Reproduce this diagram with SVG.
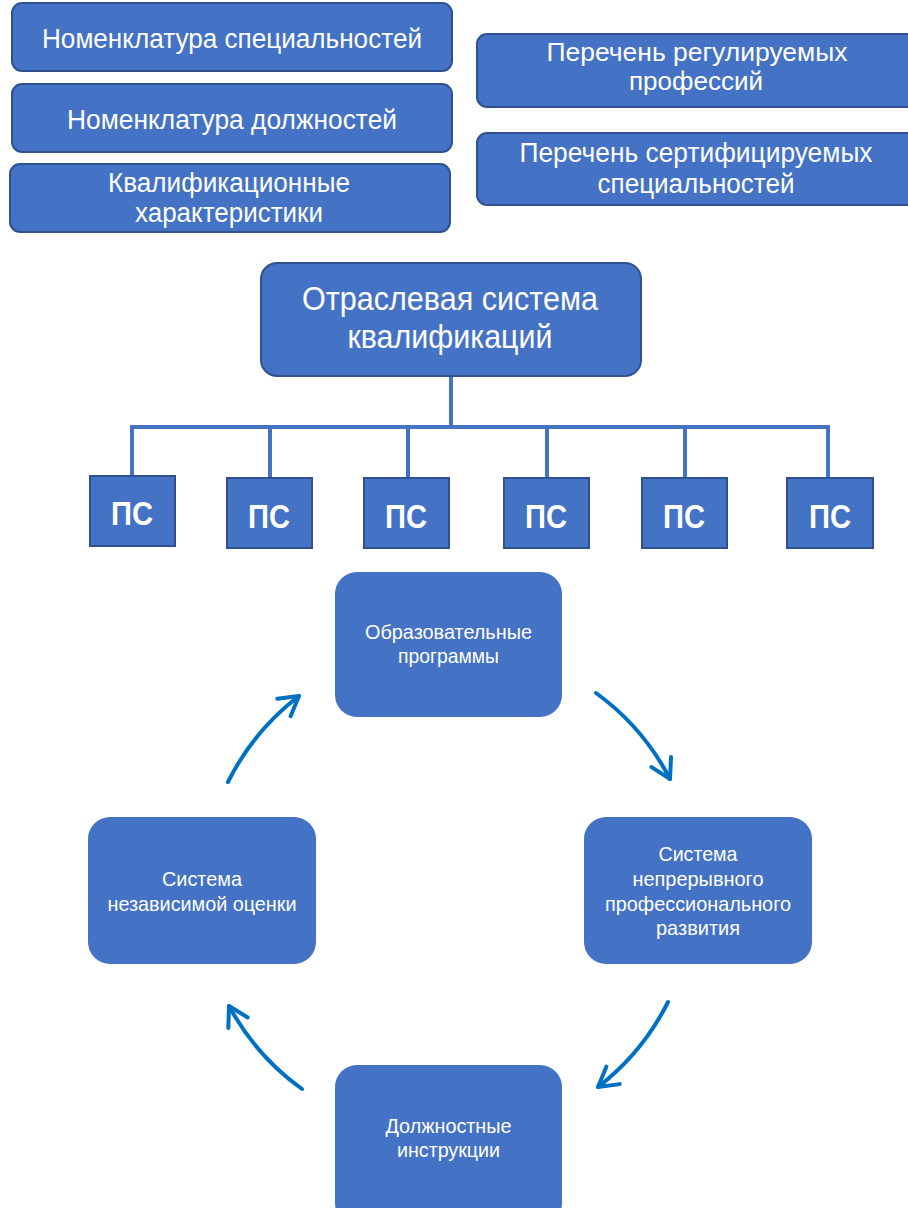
<svg xmlns="http://www.w3.org/2000/svg" width="908" height="1208" viewBox="0 0 908 1208">
<style>
.box{fill:#4472C4;stroke:#2F528F;stroke-width:2}
.cyc{fill:#4472C4;stroke:none}
.t{fill:#fff;font-family:"Liberation Sans",Arial,sans-serif;text-anchor:middle}
.tl{font-size:27px}
.tr{font-size:26px}
.tm{font-size:33px}
.ps{font-size:34px;font-weight:bold}
.ts{font-size:21px}
.line{stroke:#4472C4;stroke-width:4;fill:none}
.arr{stroke:#0070C0;stroke-width:4;fill:none;stroke-linecap:round}
</style>
<defs>
<marker id="head" markerUnits="userSpaceOnUse" markerWidth="40" markerHeight="40" viewBox="-25 -20 30 40" refX="0" refY="0" orient="auto">
<path d="M -19 -11 L 0 0 L -19 11" fill="none" stroke="#0070C0" stroke-width="4" stroke-linecap="round" stroke-linejoin="round"/>
</marker>
</defs>

<g id="nom-spec">
<rect class="box" x="12" y="3" width="440" height="68" rx="10"/>
<text class="t tl" x="232" y="48" textLength="380" lengthAdjust="spacingAndGlyphs">Номенклатура специальностей</text>
</g>
<g id="nom-dolzh">
<rect class="box" x="12" y="84" width="440" height="68" rx="10"/>
<text class="t tl" x="232" y="129" textLength="330" lengthAdjust="spacingAndGlyphs">Номенклатура должностей</text>
</g>
<g id="kval-har">
<rect class="box" x="10" y="164" width="440" height="68" rx="10"/>
<text class="t tl" x="229" y="192" textLength="242" lengthAdjust="spacingAndGlyphs">Квалификационные</text>
<text class="t tl" x="229" y="222" textLength="188" lengthAdjust="spacingAndGlyphs">характеристики</text>
</g>
<g id="perech-reg">
<rect class="box" x="477" y="34" width="442" height="73" rx="10"/>
<text class="t tr" x="697" y="61" textLength="301" lengthAdjust="spacingAndGlyphs">Перечень регулируемых</text>
<text class="t tr" x="696" y="90" textLength="134" lengthAdjust="spacingAndGlyphs">профессий</text>
</g>
<g id="perech-sert">
<rect class="box" x="477" y="133" width="442" height="72" rx="10"/>
<text class="t tl" x="696" y="162" textLength="353" lengthAdjust="spacingAndGlyphs">Перечень сертифицируемых</text>
<text class="t tl" x="696" y="193" textLength="197" lengthAdjust="spacingAndGlyphs">специальностей</text>
</g>

<g id="connectors">
<path class="line" d="M451 376 V427 M130 427 H830 M132 427 V477 M270 427 V478 M408 427 V478 M547 427 V478 M685 427 V478 M828 427 V478"/>
<path class="arr" d="M 596 693 A 246 246 0 0 1 670 779" marker-end="url(#head)"/>
<path class="arr" d="M 668 1002 A 246 246 0 0 1 598 1087" marker-end="url(#head)"/>
<path class="arr" d="M 302 1089 A 246 246 0 0 1 229 1006" marker-end="url(#head)"/>
<path class="arr" d="M 228 782 A 246 246 0 0 1 299 696" marker-end="url(#head)"/>
</g>

<g id="osk">
<rect class="box" x="261" y="263" width="380" height="113" rx="16"/>
<text class="t tm" x="450" y="310" textLength="296" lengthAdjust="spacingAndGlyphs">Отраслевая система</text>
<text class="t tm" x="450" y="348" textLength="205" lengthAdjust="spacingAndGlyphs">квалификаций</text>
</g>

<g id="ps1"><rect class="box" x="90" y="476" width="85" height="70"/><text class="t ps" x="132" y="525" textLength="42" lengthAdjust="spacingAndGlyphs">ПС</text></g>
<g id="ps2"><rect class="box" x="227" y="478" width="85" height="70"/><text class="t ps" x="269" y="528" textLength="42" lengthAdjust="spacingAndGlyphs">ПС</text></g>
<g id="ps3"><rect class="box" x="364" y="478" width="85" height="70"/><text class="t ps" x="406" y="528" textLength="42" lengthAdjust="spacingAndGlyphs">ПС</text></g>
<g id="ps4"><rect class="box" x="504" y="478" width="85" height="70"/><text class="t ps" x="546" y="528" textLength="42" lengthAdjust="spacingAndGlyphs">ПС</text></g>
<g id="ps5"><rect class="box" x="642" y="478" width="85" height="70"/><text class="t ps" x="684" y="528" textLength="42" lengthAdjust="spacingAndGlyphs">ПС</text></g>
<g id="ps6"><rect class="box" x="787" y="478" width="86" height="70"/><text class="t ps" x="830" y="528" textLength="42" lengthAdjust="spacingAndGlyphs">ПС</text></g>

<g id="obr-prog">
<rect class="cyc" x="335" y="572" width="227" height="145" rx="22"/>
<text class="t ts" x="448.5" y="639" textLength="167" lengthAdjust="spacingAndGlyphs">Образовательные</text>
<text class="t ts" x="448.5" y="663" textLength="101" lengthAdjust="spacingAndGlyphs">программы</text>
</g>
<g id="nez-ocenka">
<rect class="cyc" x="88" y="817" width="228" height="147" rx="22"/>
<text class="t ts" x="202" y="886" textLength="80" lengthAdjust="spacingAndGlyphs">Система</text>
<text class="t ts" x="202" y="911" textLength="189" lengthAdjust="spacingAndGlyphs">независимой оценки</text>
</g>
<g id="npr">
<rect class="cyc" x="584" y="817" width="228" height="147" rx="22"/>
<text class="t ts" x="698" y="861" textLength="79" lengthAdjust="spacingAndGlyphs">Система</text>
<text class="t ts" x="698" y="886" textLength="131" lengthAdjust="spacingAndGlyphs">непрерывного</text>
<text class="t ts" x="698" y="911" textLength="186" lengthAdjust="spacingAndGlyphs">профессионального</text>
<text class="t ts" x="698" y="935" textLength="84" lengthAdjust="spacingAndGlyphs">развития</text>
</g>
<g id="dolzh-instr">
<rect class="cyc" x="335" y="1065" width="227" height="160" rx="22"/>
<text class="t ts" x="448.5" y="1133" textLength="126" lengthAdjust="spacingAndGlyphs">Должностные</text>
<text class="t ts" x="448.5" y="1157" textLength="103" lengthAdjust="spacingAndGlyphs">инструкции</text>
</g>
</svg>
